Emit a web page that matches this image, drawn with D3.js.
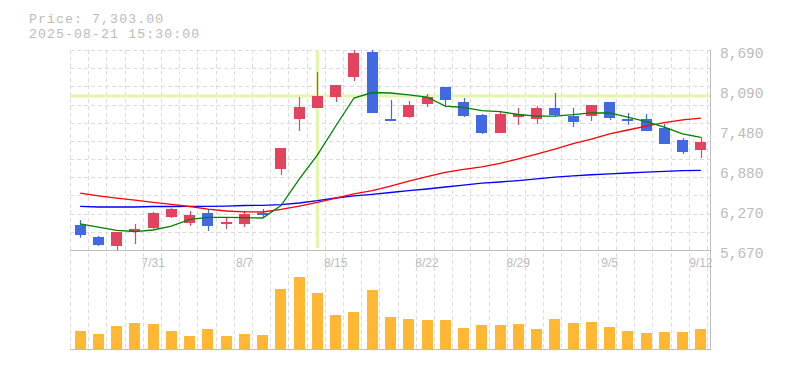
<!DOCTYPE html>
<html>
<head>
<meta charset="utf-8">
<script src="https://cdn.jsdelivr.net/npm/d3@7"></script>
<style>
  html, body { margin: 0; padding: 0; background: #fff; }
  svg { display: block; }
</style>
</head>
<body>
<svg id="chart" width="785" height="370"></svg>
<script>
// ---- data ----
const dates = ["7/25","7/28","7/29","7/30","7/31","8/1","8/4","8/5","8/6","8/7","8/8",
  "8/12","8/13","8/14","8/15","8/18","8/19","8/20","8/21","8/22","8/25","8/26","8/27",
  "8/28","8/29","9/1","9/2","9/3","9/4","9/5","9/8","9/9","9/10","9/11","9/12"];
const open  = [6048,5866,5730,5957,6002,6168,6078,6229,6063,6063,6229,6893,7648,7814,7980,8282,8660,7648,7678,7875,8131,7905,7709,7437,7678,7648,7814,7693,7693,7905,7648,7648,7512,7331,7180];
const high  = [6123,5881,5942,6063,6244,6304,6259,6289,6168,6259,6289,7210,7980,8358,8161,8690,8690,7935,7920,8026,8131,7965,7724,7754,7814,7844,8041,7814,7860,7905,7739,7724,7573,7361,7376];
const low   = [5856,5730,5670,5761,5987,6153,6032,5957,5987,6017,6153,6803,7467,7814,7905,8222,7739,7618,7663,7829,7829,7678,7422,7437,7558,7573,7678,7527,7618,7633,7558,7467,7271,7120,7059];
const close = [5897,5746,5942,5987,6229,6289,6199,6032,6093,6214,6199,7210,7829,7995,8161,8645,7739,7618,7860,7980,7935,7693,7437,7724,7724,7814,7709,7603,7860,7663,7618,7467,7271,7150,7303];
const volume = [180,150,230,260,250,180,130,200,130,150,140,600,720,560,340,370,590,320,300,290,290,210,240,240,250,200,300,260,270,220,180,160,170,170,200];
const ma5  = [6063,6017,5967,5949,5972,6032,6131,6164,6164,6158,6153,6342,6742,7105,7542,7965,8048,8041,8011,7980,7844,7822,7776,7758,7716,7693,7693,7713,7742,7739,7678,7610,7527,7422,7369];
const ma25 = [6528,6488,6452,6422,6390,6359,6327,6286,6259,6247,6244,6282,6334,6390,6455,6516,6568,6636,6709,6777,6843,6886,6926,6979,7047,7117,7195,7275,7346,7423,7482,7542,7595,7636,7660];
const ma75 = [6330,6319,6319,6319,6327,6327,6330,6330,6334,6342,6345,6354,6380,6414,6455,6488,6511,6538,6565,6591,6621,6650,6679,6697,6719,6745,6769,6789,6806,6821,6833,6845,6858,6870,6873];
const priceTicks = [5670, 6274, 6878, 7482, 8086, 8690];
const priceTickLabels = ["5,670","6,270","6,880","7,480","8,090","8,690"];
const dateTickLabels = ["7/31","8/7","8/15","8/22","8/29","9/5","9/12"];
const headerLines = ["Price: 7,303.00", "2025-08-21 15:30:00"];
const crossDate = "8/14";
const crossPrice = 7995;

// ---- layout ----
const svg = d3.select("#chart");
const L = 71, R = 710, T = 50, PB = 250, VB = 349;
const x = d3.scaleBand().domain(dates).range([L, R]).padding(0);
const y = d3.scaleLinear().domain([5670, 8690]).range([PB, T]);
const yv = d3.scaleLinear().domain([0, 720]).range([VB, 277]);
const cw = 11;
const cx = d => x(d) + x.bandwidth() / 2;

const UP = "#e2435f", DOWN = "#4169e1", GRID = "#dcdcdc", AXIS = "#bdbdbd", TXT = "#bbbbbb";

// grid
const g = svg.append("g");
const vstep = 18.2;
g.selectAll(".vg").data(d3.range(36)).join("line")
  .attr("x1", k => 70.5 + k * vstep).attr("x2", k => 70.5 + k * vstep)
  .attr("y1", T).attr("y2", VB + 1)
  .attr("stroke", GRID).attr("stroke-dasharray", "4,3").attr("shape-rendering", "crispEdges");
const hstep = (PB - T) / 11;
g.selectAll(".hg").data(d3.range(11)).join("line")
  .attr("x1", 70).attr("x2", R)
  .attr("y1", k => T + 0.5 + k * hstep).attr("y2", k => T + 0.5 + k * hstep)
  .attr("stroke", GRID).attr("stroke-dasharray", "4,3").attr("shape-rendering", "crispEdges");

// axes lines
g.append("line").attr("x1", 70).attr("x2", R + 1).attr("y1", PB + 0.5).attr("y2", PB + 0.5)
  .attr("stroke", AXIS).attr("shape-rendering", "crispEdges");
g.append("line").attr("x1", 70).attr("x2", R + 1).attr("y1", VB + 0.5).attr("y2", VB + 0.5)
  .attr("stroke", AXIS).attr("shape-rendering", "crispEdges");
g.append("line").attr("x1", R + 0.5).attr("x2", R + 0.5).attr("y1", T).attr("y2", VB + 1)
  .attr("stroke", AXIS).attr("shape-rendering", "crispEdges");

// crosshair
const ch = svg.append("g");
ch.append("line").attr("x1", 70).attr("x2", R).attr("y1", y(crossPrice)).attr("y2", y(crossPrice))
  .attr("stroke", "#e4f5ae").attr("stroke-width", 3);
ch.append("line").attr("x1", cx(crossDate)).attr("x2", cx(crossDate)).attr("y1", T + 1).attr("y2", PB - 2)
  .attr("stroke", "#e4f5ae").attr("stroke-width", 3);

// price labels
svg.append("g").selectAll("text").data(priceTicks).join("text")
  .attr("x", 720).attr("y", v => y(v) + 7.5)
  .attr("font-family", "'Liberation Mono', monospace").attr("font-size", 14.5)
  .attr("fill", TXT).text((v, i) => priceTickLabels[i]);

// date labels
svg.append("g").selectAll("text").data(dateTickLabels).join("text")
  .attr("x", d => cx(d)).attr("y", 266.5).attr("text-anchor", "middle")
  .attr("font-family", "'Liberation Sans', Arial, sans-serif").attr("font-size", 12)
  .attr("fill", TXT).text(d => d);

// volume
svg.append("g").selectAll("rect").data(dates).join("rect")
  .attr("x", d => Math.round(cx(d) - cw / 2)).attr("width", cw)
  .attr("y", (d, i) => yv(volume[i])).attr("height", (d, i) => VB - yv(volume[i]))
  .attr("fill", "#ffb734").attr("shape-rendering", "crispEdges");

// candles
const cg = svg.append("g");
dates.forEach((d, i) => {
  const col = close[i] >= open[i] ? UP : DOWN;
  const xc = Math.round(cx(d)) + 0.5;
  cg.append("line").attr("x1", xc).attr("x2", xc)
    .attr("y1", y(high[i])).attr("y2", y(low[i]))
    .attr("stroke", col).attr("stroke-width", 1.2);
  const top = y(Math.max(open[i], close[i])), bot = y(Math.min(open[i], close[i]));
  cg.append("rect").attr("x", Math.round(cx(d) - cw / 2)).attr("width", cw)
    .attr("y", top).attr("height", Math.max(2, bot - top))
    .attr("fill", col).attr("shape-rendering", "crispEdges");
});

// moving averages
const line = arr => d3.line().x((v, i) => cx(dates[i])).y(v => y(v))(arr);
[[ma75, "#0000ff"], [ma25, "#ff0000"], [ma5, "#008000"]].forEach(([arr, c]) => {
  svg.append("path").attr("d", line(arr)).attr("fill", "none")
    .attr("stroke", c).attr("stroke-width", 1.3);
});

// header
svg.append("g").selectAll("text").data(headerLines).join("text")
  .attr("x", 29).attr("y", (d, i) => 22.5 + i * 15)
  .attr("font-family", "'Liberation Mono', monospace").attr("font-size", 13.2)
  .attr("letter-spacing", 1.1)
  .attr("fill", TXT).text(d => d);
</script>
</body>
</html>
